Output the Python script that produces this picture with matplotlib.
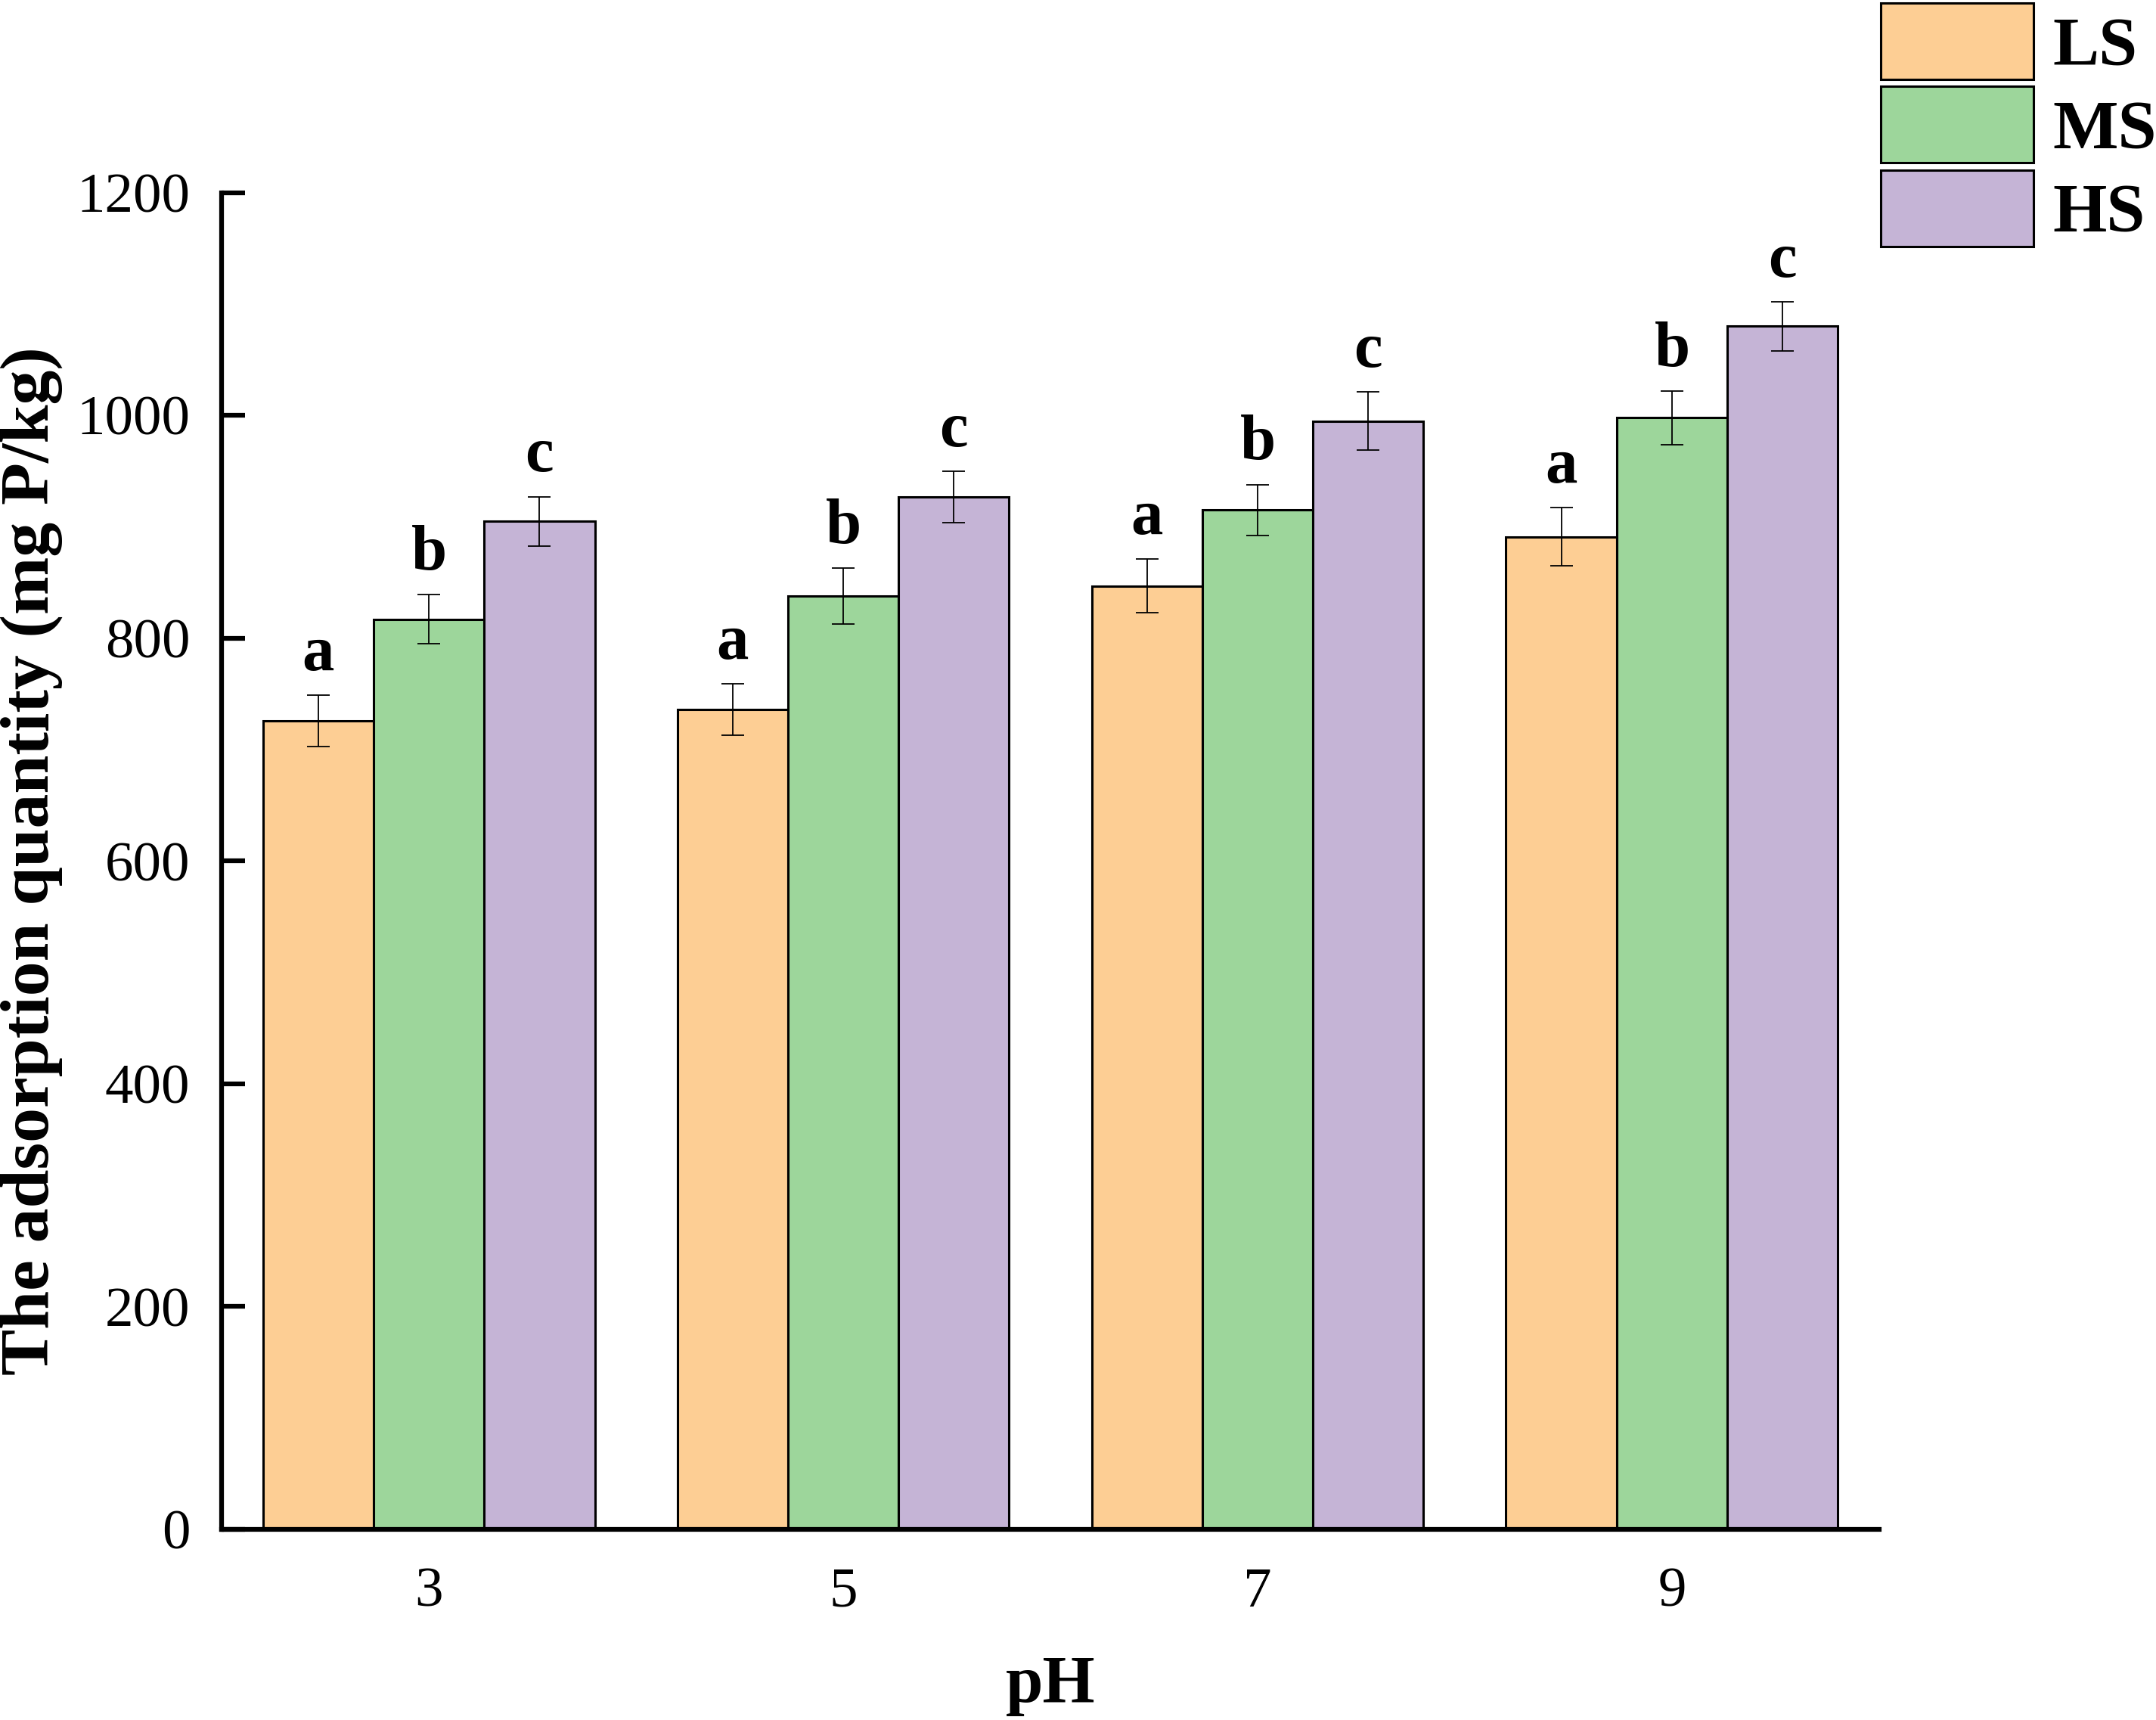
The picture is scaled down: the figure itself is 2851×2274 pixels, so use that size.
import matplotlib.pyplot as plt
import numpy as np

plt.rcParams['font.family'] = ['Liberation Serif', 'DejaVu Serif']

ph_labels = ['3', '5', '7', '9']
series = ['LS', 'MS', 'HS']
ls_vals = [726, 736, 847, 891]
ms_vals = [817, 838, 915, 998]
hs_vals = [905, 927, 995, 1080]
ls_err = [23, 23, 24, 26]
ms_err = [22, 25, 23, 24]
hs_err = [22, 23, 26, 22]
letters = ['a', 'b', 'c']

colors = ['#FDCE94', '#9DD69B', '#C5B4D6']

fig = plt.figure(figsize=(28.51, 22.74), dpi=100)
ax = fig.add_axes([0.1028, 0.1108, 0.7688, 0.7772])

x = np.arange(len(ph_labels))
w = 0.267
vals = [ls_vals, ms_vals, hs_vals]
errs = [ls_err, ms_err, hs_err]
for i, (v, e) in enumerate(zip(vals, errs)):
    pos = x + (i - 1) * w
    ax.bar(pos, v, w, color=colors[i], edgecolor='black', linewidth=2.2,
           label=series[i], zorder=2)
    ax.errorbar(pos, v, yerr=e, fmt='none', ecolor='black', elinewidth=1.3,
                capsize=11, capthick=1.3, zorder=3)
    for p, val, er in zip(pos, v, e):
        ax.annotate(letters[i], (p, val + er), xytext=(0, 24),
                    textcoords='offset points', ha='center', va='baseline',
                    fontsize=61, fontweight='bold')

ax.set_xlim(-0.5, 3.5)
ax.set_ylim(0, 1200)
ax.set_yticks(np.arange(0, 1201, 200))
ax.set_xticks(x)
ax.set_xticklabels(ph_labels)
ax.spines['top'].set_visible(False)
ax.spines['right'].set_visible(False)
for s in ['left', 'bottom']:
    ax.spines[s].set_linewidth(4.5)
ax.tick_params(axis='both', direction='in', length=22, width=4.5,
               labelsize=54)
ax.tick_params(axis='y', pad=30)
ax.tick_params(axis='x', pad=36)

ax.set_ylabel('The adsorption quantity (mg P/kg)', fontsize=66,
              fontweight='bold')
ax.yaxis.set_label_coords(-0.096, 0.5)
ax.set_xlabel('pH', fontsize=64, fontweight='bold', labelpad=35)

fig.legend(loc='upper left', bbox_to_anchor=(2487 / 2851, 1 - 4 / 2274),
           frameon=False, prop={'weight': 'bold', 'size': 66},
           borderpad=0, borderaxespad=0, handlelength=2.2, handleheight=1.32,
           handletextpad=0.28, labelspacing=0.1)

fig.savefig('out.png', dpi=100)
